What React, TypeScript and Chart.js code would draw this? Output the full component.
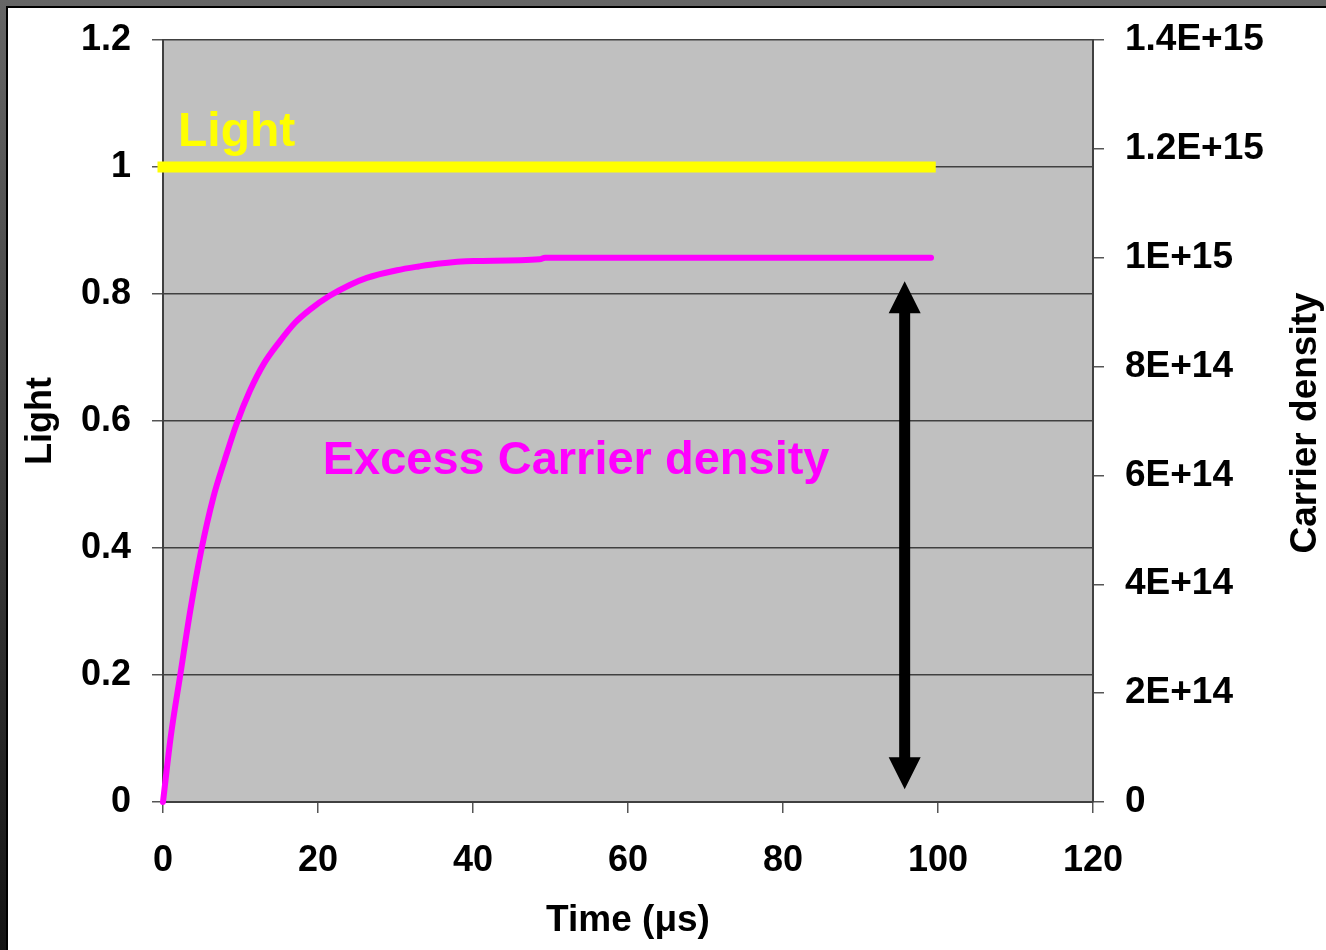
import React, { useEffect, useRef } from 'react';
import { Chart, registerables } from 'chart.js';

Chart.register(...registerables);

// ---- data ----
const timeTicks = [0, 20, 40, 60, 80, 100, 120];
const lightTicks = [0, 0.2, 0.4, 0.6, 0.8, 1, 1.2];
const densityTicks = [0, 2e14, 4e14, 6e14, 8e14, 1e15, 1.2e15, 1.4e15];

const lightTime = [0, 99];
const lightLevel = [1, 1];

const carrierTime = [0, 1.0, 2.3, 3.5, 4.9, 6.5, 8.0, 9.5, 11.2, 13.0, 15.0, 17.0, 19.0, 21.5, 24.1, 26.3, 30.2, 33.0, 35.4, 40.1, 48.6, 49.3, 99.1];
const carrierDensity = [0, 1.2e14, 2.4e14, 3.5e14, 4.6e14, 5.6e14, 6.3e14, 6.95e14, 7.55e14, 8.05e14, 8.45e14, 8.8e14, 9.05e14, 9.3e14, 9.5e14, 9.63e14, 9.77e14, 9.84e14, 9.89e14, 9.94e14, 9.97e14, 1.0e15, 1.0e15];

// arrow annotation (time, light-axis units)
const arrowTime = 95.7;
const arrowFrom = 0.02;
const arrowTo = 0.82;

// text annotations (time, light-axis units)
const lightLabel = { text: 'Light', t: 1.94, v: 1.033 };
const carrierLabel = { text: 'Excess Carrier density', t: 20.6, v: 0.516 };

const FONT = '"Liberation Sans", Arial, Helvetica, sans-serif';

function fmtDensity(v: number): string {
  if (Math.abs(v) < 1) return '0';
  const e = Math.floor(Math.log10(v) + 1e-9);
  const m = Math.round((v / Math.pow(10, e)) * 10) / 10;
  return `${m}E+${e}`;
}

const decorPlugin = {
  id: 'decor',
  beforeDraw(chart: any) {
    const { ctx, chartArea: a } = chart;
    ctx.save();
    ctx.fillStyle = '#C0C0C0';
    ctx.fillRect(a.left, a.top, a.right - a.left, a.bottom - a.top);
    ctx.restore();
  },
  afterDatasetsDraw(chart: any) {
    const { ctx, chartArea: a } = chart;
    const xs = chart.scales.x;
    const ys = chart.scales.y;
    // double arrow
    const px = xs.getPixelForValue(arrowTime);
    const top = ys.getPixelForValue(arrowTo);
    const bot = ys.getPixelForValue(arrowFrom);
    const head = 32, hw = 16, sw = 5.5;
    ctx.save();
    ctx.fillStyle = '#000000';
    ctx.beginPath();
    ctx.moveTo(px, top);
    ctx.lineTo(px + hw, top + head);
    ctx.lineTo(px + sw, top + head);
    ctx.lineTo(px + sw, bot - head);
    ctx.lineTo(px + hw, bot - head);
    ctx.lineTo(px, bot);
    ctx.lineTo(px - hw, bot - head);
    ctx.lineTo(px - sw, bot - head);
    ctx.lineTo(px - sw, top + head);
    ctx.lineTo(px - hw, top + head);
    ctx.closePath();
    ctx.fill();

    ctx.textBaseline = 'alphabetic';
    ctx.textAlign = 'left';
    ctx.font = `bold 48px ${FONT}`;
    ctx.fillStyle = '#FFFF00';
    ctx.fillText(lightLabel.text, xs.getPixelForValue(lightLabel.t), ys.getPixelForValue(lightLabel.v));
    ctx.font = `bold 47px ${FONT}`;
    ctx.fillStyle = '#FF00FF';
    ctx.fillText(carrierLabel.text, xs.getPixelForValue(carrierLabel.t), ys.getPixelForValue(carrierLabel.v));

    // right axis title (reads bottom to top)
    const y1 = chart.scales.y1;
    ctx.translate(y1.right - 10, (a.top + a.bottom) / 2 + 2);
    ctx.rotate(-Math.PI / 2);
    ctx.textAlign = 'center';
    ctx.font = `bold 37px ${FONT}`;
    ctx.fillStyle = '#000000';
    ctx.fillText('Carrier density', 0, 0);
    ctx.restore();
  },
};

export default function App() {
  const ref = useRef<HTMLCanvasElement | null>(null);

  useEffect(() => {
    if (!ref.current) return;
    const tickFont = { family: FONT, size: 36, weight: 'bold' as const };
    const chart = new Chart(ref.current, {
      type: 'scatter',
      data: {
        datasets: [
          {
            label: 'Light',
            data: lightTime.map((t, i) => ({ x: t, y: lightLevel[i] })),
            yAxisID: 'y',
            showLine: true,
            clip: false,
            borderColor: '#FFFF00',
            backgroundColor: '#FFFF00',
            borderWidth: 11,
            borderCapStyle: 'square',
            pointRadius: 0,
            pointHoverRadius: 0,
          },
          {
            label: 'Carrier density',
            data: carrierTime.map((t, i) => ({ x: t, y: carrierDensity[i] })),
            yAxisID: 'y1',
            showLine: true,
            clip: false,
            borderColor: '#FF00FF',
            backgroundColor: '#FF00FF',
            borderWidth: 6,
            borderCapStyle: 'round',
            borderJoinStyle: 'round',
            cubicInterpolationMode: 'monotone',
            pointRadius: 0,
            pointHoverRadius: 0,
          },
        ],
      },
      options: {
        responsive: false,
        animation: false,
        devicePixelRatio: 1,
        layout: { padding: { top: 40, left: 0, right: 0, bottom: 0 } },
        plugins: {
          legend: { display: false },
          tooltip: { enabled: false },
        },
        events: [],
        scales: {
          x: {
            type: 'linear',
            position: 'bottom',
            min: 0,
            max: 120,
            afterBuildTicks: (s: any) => { s.ticks = timeTicks.map((v) => ({ value: v })); },
            afterFit: (s: any) => { s.height = 148; s.paddingLeft = 0; s.paddingRight = 0; },
            ticks: { font: tickFont, color: '#000', padding: 26, maxRotation: 0, autoSkip: false, callback: (v: any) => String(v) },
            grid: { drawOnChartArea: false, drawTicks: true, tickLength: 11, tickColor: '#555', tickWidth: 1.5, lineWidth: 1.5, color: '#555' },
            border: { display: true, color: '#404040', width: 2 },
            title: { display: true, text: 'Time (μs)', color: '#000', font: { family: FONT, size: 37, weight: 'bold', lineHeight: 1 }, padding: { top: 0, bottom: 11 } },
          },
          y: {
            type: 'linear',
            position: 'left',
            min: 0,
            max: 1.2,
            afterBuildTicks: (s: any) => { s.ticks = lightTicks.map((v) => ({ value: v })); },
            afterFit: (s: any) => { s.width = 163; s.paddingTop = 0; s.paddingBottom = 0; },
            ticks: { font: tickFont, color: '#000', padding: 21, autoSkip: false, callback: (v: any) => String(Math.round(Number(v) * 10) / 10) },
            grid: { drawOnChartArea: true, drawTicks: true, tickLength: 11, tickColor: '#555', tickWidth: 1.5, lineWidth: 1.5, color: '#404040' },
            border: { display: true, color: '#404040', width: 2 },
            title: { display: true, text: 'Light', color: '#000', font: { family: FONT, size: 36, weight: 'bold', lineHeight: 1 }, padding: { top: 23, bottom: 0 } },
          },
          y1: {
            type: 'linear',
            position: 'right',
            min: 0,
            max: 1.4e15,
            afterBuildTicks: (s: any) => { s.ticks = densityTicks.map((v) => ({ value: v })); },
            afterFit: (s: any) => { s.width = 233; s.paddingTop = 0; s.paddingBottom = 0; },
            ticks: { font: { family: FONT, size: 37, weight: 'bold' }, color: '#000', padding: 21, autoSkip: false, callback: (v: any) => fmtDensity(Number(v)) },
            grid: { drawOnChartArea: false, drawTicks: true, tickLength: 11, tickColor: '#555', tickWidth: 1.5, lineWidth: 1.5, color: '#555' },
            border: { display: true, color: '#404040', width: 2 },
          },
        },
      },
      plugins: [decorPlugin],
    } as any);
    return () => chart.destroy();
  }, []);

  return (
    <div style={{ position: 'fixed', left: 0, top: 0, width: 1326, height: 950, background: 'linear-gradient(to bottom, #666666, #141414)', overflow: 'hidden' }}>
      <div style={{ position: 'absolute', left: 6, top: 6, right: 0, bottom: 0, background: '#000' }} />
      <div style={{ position: 'absolute', left: 8, top: 8, right: 0, bottom: 0, background: '#fff' }} />
      <canvas ref={ref} width={1326} height={950} style={{ position: 'absolute', left: 0, top: 0, width: 1326, height: 950 }} />
    </div>
  );
}
